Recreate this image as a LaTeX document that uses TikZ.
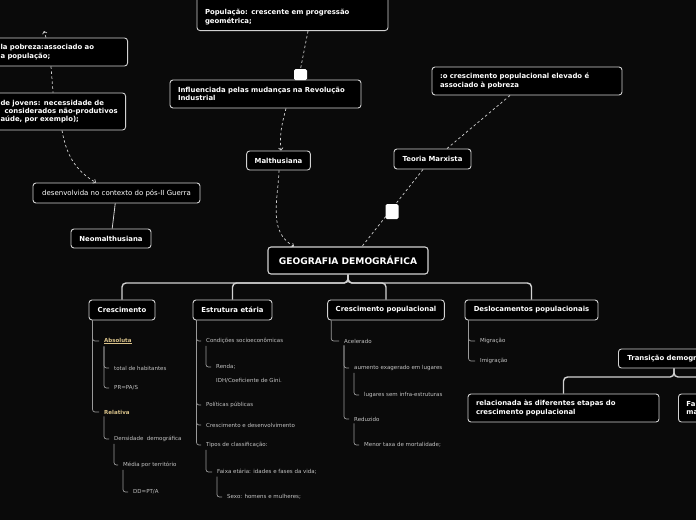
\documentclass[tikz,border=0pt]{standalone}
\usepackage{fontspec}
\setmainfont{DejaVu Sans}
\usetikzlibrary{arrows.meta,calc}

\definecolor{bgc}{HTML}{0A0A0A}
\definecolor{edgec}{HTML}{D2D2D2}
\definecolor{twigc}{HTML}{9A9A9A}
\definecolor{leafc}{HTML}{C4C4C4}
\definecolor{tanc}{HTML}{D9C28A}

\begin{document}
\begin{tikzpicture}[
  x=1pt, y=-1pt,
  >={Straight Barb[length=2.2pt,width=4.5pt]},
  box/.style={draw=edgec, fill=black, line width=0.9pt, rounded corners=3pt,
    text=white, font=\bfseries\fontsize{6.9}{8.4}\selectfont,
    inner xsep=8pt, inner ysep=0pt, minimum height=20pt},
  plain/.style={box, font=\fontsize{7}{8.4}\selectfont},
  note/.style={box, align=left, text width=175pt, inner ysep=6pt, minimum height=28pt},
  leaf/.style={anchor=west, inner sep=2pt, text=leafc, font=\fontsize{5.5}{6.5}\selectfont},
  key/.style={leaf, text=tanc, font=\bfseries\fontsize{5.5}{6.5}\selectfont},
  tree/.style={draw=edgec, line width=1.4pt, rounded corners=4pt},
  twig/.style={draw=twigc, line width=0.7pt, rounded corners=2.5pt, shorten >=3pt},
  link/.style={draw=edgec, line width=0.7pt, dash pattern=on 2.5pt off 2.5pt},
  handle/.style={fill=white, rounded corners=1.5pt, inner sep=0pt},
]

% ── Canvas (unit = 1 px of the map) ──────────────────────────────────────────
\fill[bgc] (0,0) rectangle (696,520);
\useasboundingbox (0,0) rectangle (696,520);

\def\busy{283}        % bus under the central topic
\def\busty{377}       % bus under Transição

% ── Central topic and main branches ──────────────────────────────────────────
\node[box, minimum width=160pt, minimum height=27pt, line width=1.1pt,
  font=\bfseries\fontsize{9.1}{11}\selectfont] (geo) at (348,260.5) {GEOGRAFIA DEMOGRÁFICA};

\node[box, minimum width=66pt]  (cres) at (122,310)   {Crescimento};
\node[box, minimum width=79pt]  (estr) at (232.5,310) {Estrutura etária};
\node[box, minimum width=114pt] (cpop) at (386,310)   {Crescimento populacional};
\node[box, minimum width=133pt] (desl) at (531.5,310) {Deslocamentos populacionais};

\coordinate (bus) at (348,\busy);
\foreach \c in {cres,estr,cpop,desl}
  \draw[tree] (geo.south) |- (\c.north |- bus) -- (\c.north);

% ── Theories (upper part) ─────────────────────────────────────────────────────
\node[note, anchor=south] (pop) at (292.5,31)
  {\rule{0pt}{30pt}População: crescente em progressão\\geométrica;};
\node[note] (infl) at (265.5,94) {Influenciada pelas mudanças na Revolução\\Industrial};
\node[box, minimum width=63pt, minimum height=19pt] (malt) at (278.5,160.5) {Malthusiana};
\node[note, text width=174pt] (pobr) at (527,81) {:o crescimento populacional elevado é\\associado à pobreza};
\node[box, minimum width=77pt] (marx) at (432.5,159) {Teoria Marxista};

\node[note, anchor=east, text width=119pt] (lp) at (128,52)
  {la pobreza:associado ao\\a população;};
\node[note, anchor=east, text width=117pt, minimum height=37pt] (jov) at (126,111.5)
  {de jovens: necessidade de\\\hspace*{4pt}\mbox{considerados não-produtivos}\\aúde, por exemplo);};
\node[plain, minimum width=167pt] (dese) at (116.5,193) {desenvolvida no contexto do pós-II Guerra};
\node[box, minimum width=80pt, minimum height=19pt] (neo) at (111,238.5) {Neomalthusiana};
\coordinate (up) at (44,31);

% dashed relations
\draw[link] ([xshift=15.5pt]pop.south) -- (300.5,69);
\draw[link,->] ([xshift=20.5pt]infl.south) to[out=-105,in=95] ([xshift=2.5pt]malt.north);
\draw[link,->] ([xshift=0.5pt]malt.south) to[out=-92,in=150] ([xshift=-54pt]geo.north);
\draw[link] ([xshift=-17pt]pobr.south) -- ([xshift=14.5pt]marx.north);
\draw[link] ([xshift=-9.5pt]marx.south) -- ([xshift=14pt]geo.north);
\draw[link] ([xshift=-77pt]lp.south east) -- ([xshift=-73pt]jov.north east);
\draw[link,->] ([xshift=-64pt]jov.south east) to[out=-80,in=150] ([xshift=-20.5pt]dese.north);
\draw[link,->] ([xshift=-82pt]lp.north east) -- (up);
\draw[draw=edgec, line width=0.8pt] (dese) -- (neo);

% relation handles
\node[handle, minimum width=13pt, minimum height=11pt] (h1) at (300.5,74.5) {};
\node[handle, minimum width=13pt, minimum height=15pt] (h2) at (392,211.5) {};

% ── Transição demográfica (cut at the right edge) ─────────────────────────────
\node[box, anchor=west, minimum height=19pt, inner xsep=9pt] (trans) at (618,358.5) {Transição demográfica};
\node[note] (etapas) at (563.5,408) {relacionada às diferentes etapas do\\crescimento populacional};
\node[note, anchor=west] (fases) at (678,408) {Fa\\ma};

\coordinate (bus2) at (674,\busty);
\foreach \c in {etapas,fases}
  \draw[tree] ([xshift=56pt]trans.south west) |- (\c.north |- bus2) -- (\c.north);

% ── Sub-topics: Crescimento ───────────────────────────────────────────────────
\node[key]  (abs)  at (102,341) {\underline{Absoluta}};
\node[leaf] (tot)  at (112,368) {total de habitantes};
\node[leaf] (pr)   at (112,388) {PR=PA/S};
\node[key]  (rela) at (102,412) {Relativa};
\node[leaf] (dens) at (112,439) {Densidade\ \ demográfica};
\node[leaf] (med)  at (121,465) {Média por território};
\node[leaf] (dd)   at (131,492) {DD=PT/A};

% ── Sub-topics: Estrutura etária ──────────────────────────────────────────────
\node[leaf] (cond)  at (204,341) {Condições socioeconômicas};
\node[leaf] (renda) at (214,367) {Renda;};
\node[leaf] (idh)   at (214,381) {IDH/Coeficiente de Gini.};
\node[leaf] (pol)   at (204,405) {Políticas públicas};
\node[leaf] (cde)   at (204,425) {Crescimento e desenvolvimento};
\node[leaf] (tipos) at (204,445) {Tipos de classificação:};
\node[leaf] (faixa) at (215,472) {Faixa etária: idades e fases da vida;};
\node[leaf] (sexo)  at (225,497) {Sexo: homens e mulheres;};

% ── Sub-topics: Crescimento populacional ──────────────────────────────────────
\node[leaf] (acel) at (342,341) {Acelerado};
\node[leaf] (aum)  at (352,368) {aumento exagerado em lugares};
\node[leaf] (lug)  at (362,395) {lugares sem infra-estruturas};
\node[leaf] (redz) at (352,419) {Reduzido};
\node[leaf] (men)  at (362,445) {Menor taxa de mortalidade;};

% ── Sub-topics: Deslocamentos ─────────────────────────────────────────────────
\node[leaf] (mig)  at (478,341) {Migração};
\node[leaf] (imig) at (478,361) {Imigração};

% twigs from boxes, then from sub-topics
\foreach \p/\c in {cres/abs,cres/rela,estr/cond,estr/pol,estr/cde,estr/tipos,
                   cpop/acel,desl/mig,desl/imig}
  \draw[twig] ([xshift=4pt]\p.south west) |- (\c.west);
\foreach \p/\c in {abs/tot,abs/pr,rela/dens,dens/med,med/dd,cond/renda,
                   tipos/faixa,faixa/sexo,acel/aum,acel/redz,aum/lug,redz/men}
  \draw[twig] ([xshift=2pt]\p.south west) |- (\c.west);

\end{tikzpicture}
\end{document}
